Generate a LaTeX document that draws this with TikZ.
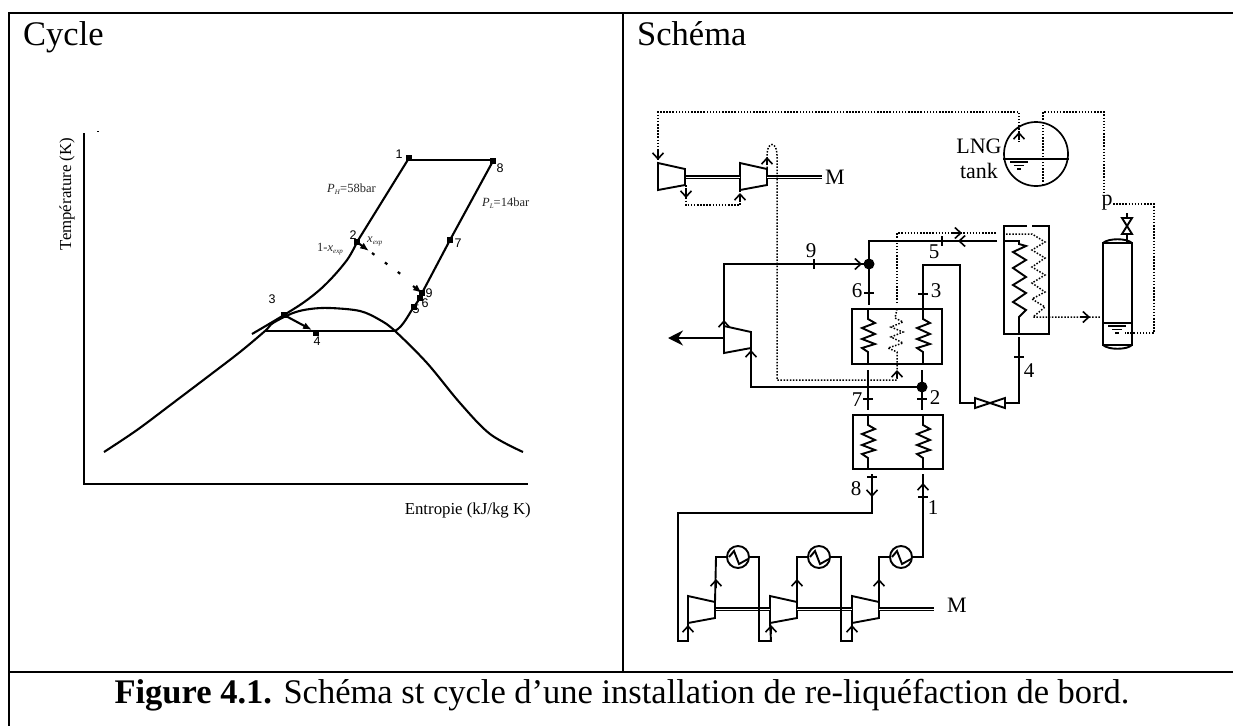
\documentclass[tikz,border=0pt]{standalone}
\usepackage{fontspec}
\setmainfont{Liberation Serif}
\newfontfamily\numfont{Liberation Sans}
\usetikzlibrary{arrows.meta}
\newcommand{\subs}[1]{\raisebox{-2.5pt}{\fontsize{7}{7}\selectfont\textit{#1}}}
\tikzset{
  every node/.style={inner sep=0pt},
  framel/.style={line width=2.4pt},
  curve/.style={line width=2.1pt,line join=round},
  pipe/.style={line width=1.9pt,line join=miter},
  dots/.style={line width=1.5pt,dash pattern=on 1.5pt off 1.6pt},
  tick/.style={line width=1.6pt},
  head/.style={line width=1.6pt,-{Straight Barb[length=6pt,width=11pt]}},
  shaft/.style={double,double distance=0.9pt,line width=1.5pt},
  dotn/.style={circle,fill=black,minimum size=11pt},
  pt/.style={rectangle,fill=black,minimum size=6pt},
  title/.style={anchor=base west,font=\fontsize{34.5}{38}\selectfont},
  num/.style={font=\fontsize{21}{22}\selectfont},
  cyc/.style={font=\numfont\fontsize{12.5}{14}\selectfont},
  ax/.style={font=\fontsize{16.8}{18}\selectfont},
  pres/.style={anchor=base west,font=\fontsize{12.5}{14}\selectfont,text=black!85},
  machine/.pic={
    \draw[pipe] (0,0) coordinate (-tl) -- (27,6) coordinate (-tr) -- (27,22) coordinate (-br) -- (0,27) coordinate (-bl) -- cycle;
  },
  coil/.pic={
    \draw[pipe] (0,0) -- (0,11) -- (7,15) -- (-6,20) -- (7,26) -- (-6,31) -- (7,36) -- (-6,40) -- (0,44) -- (0,55);
  },
  cooler/.pic={
    \draw[pipe] (0,0) circle (11);
    \draw[pipe] (-9,0) -- (-4,-6) -- (1,7) -- (10,2);
  },
  level/.pic={
    \draw[line width=1.1pt] (-9,0) -- (9,0) (-5,3.5) -- (5,3.5) (-2,7) -- (2,7);
  }
}
\begin{document}
\begin{tikzpicture}[x=1pt,y=-1pt]
\useasboundingbox (0,0) rectangle (1233,726);
% frame
\draw[framel] (1233,13) -- (9,13) -- (9,726);
\draw[framel] (9,672) -- (1233,672);
\draw[framel] (623,13) -- (623,672);
\node[title] (cycle) at (23,45) {Cycle};
\node[title] (schema) at (637,45) {Schéma};
\node[anchor=base,font=\fontsize{34.5}{38}\selectfont] (caption) at (622,703) {\textbf{Figure 4.1.} Schéma st cycle d’une installation de re-liquéfaction de bord.};

% cycle, axes
\draw[framel] (84,133) -- (84,484) -- (528,484);
\fill (97,131) rectangle (99,132);
\node[ax,rotate=90] (ylab) at (67,194) {Température (K)};
\node[ax,anchor=base east] (xlab) at (531,514) {Entropie (kJ/kg K)};
% cycle, states
\foreach \n/\x/\y in {1/409/158,8/493/161,2/357/242,7/450/240,9/422/293,6/420/298,5/414/307,3/284/315,4/316/333}
  \node[pt] (p\n) at (\x,\y) {};
\foreach \n/\x/\y in {1/399/154,8/500/168,2/353/235,7/458/243,3/272/299,4/317/341,9/429/293,6/425/303,5/416/309}
  \node[cyc] (c\n) at (\x,\y) {\n};
\coordinate (domeL) at (265,331);
\coordinate (domeR) at (395,331);
% saturation dome
\draw[curve] plot[smooth,tension=0.55] coordinates {(104,452) (137,430) (173,403) (210,375) (240,352) (265,331) (273,323) (293,313) (310,309) (330,308) (360,311) (380,320) (395,331) (427,363) (460,403) (490,434) (523,452)};
\draw[curve] (domeL) -- (domeR);
\draw[curve] (409,160) -- (493,160);
\draw[curve] (p8.center) -- (p7.center) -- (p9.center) -- (p6.center) -- (p5.center);
\draw[curve] (p5.center) .. controls (409,313) and (404,326) .. (domeR);
\draw[curve] (p1.center) -- (p2.center);
\draw[curve] plot[smooth,tension=0.6] coordinates {(357,242) (347,260) (327,283) (307,300) (284,315) (252,334)};
\draw[curve,-{Latex[length=9pt,width=7pt]}] (p3.center) -- (312,330);
\draw[curve,-{Latex[length=9pt,width=7pt]}] (p2.center) -- (369,251);
\draw[line width=2.2pt,dash pattern=on 3pt off 13pt] (372,253) -- (406,278);
\draw[curve,-{Latex[length=9pt,width=7pt]}] (413,286) -- (p9.center);
\node[pres] (pH) at (327,192) {\textit{P}\subs{H}=58bar};
\node[pres] (pL) at (482,206) {\textit{P}\subs{L}=14bar};
\node[pres] (xa) at (317,251) {1-\textit{x}\subs{exp}};
\node[pres] (xb) at (367,242) {\textit{x}\subs{exp}};

% boil-off compression train
\pic (t1) at (658,163) {machine};
\pic (t2) at (740,163) {machine};
\draw[shaft] (686,177) -- (740,177);
\draw[shaft] (767,177) -- (822,177);
\node[num,anchor=base west,font=\fontsize{22}{24}\selectfont] (m1) at (825,184) {M};
\draw[dots] (1019,142) -- (1019,112) -- (658,112) -- (658,160);
\draw[head] (658,150) -- (658,160);
\draw[dots] (686,185) -- (686,205) -- (740,205) -- (740,190);
\draw[head] (686,190) -- (686,198);
\draw[head] (740,201) -- (740,193);
\draw[dots] (767,168) -- (767,155) .. controls (767,141) and (777,141) .. (777,155) -- (777,380) -- (897,380) -- (897,363);
\draw[head] (767,165) -- (767,157);
\draw[head] (897,378) -- (897,370);

% tank
\node[circle,draw,line width=1.7pt,minimum size=64pt] (tank) at (1036,154) {};
\draw[pipe] (tank.west |- 0,159) -- (tank.east |- 0,159);
\pic at (1019,162) {level};
\draw[head] (1019,140) -- (1019,132);
\node[num,anchor=base,font=\fontsize{22}{24}\selectfont] (lng) at (979,153) {LNG};
\node[num,anchor=base,font=\fontsize{22}{24}\selectfont] (tk) at (979,178) {tank};
\draw[dots] (1043,185) -- (1043,112) -- (1104,112) -- (1104,194);
\node[num,anchor=base,font=\fontsize{22}{24}\selectfont] (pp) at (1107,205) {p};
\draw[dots] (1113,204) -- (1154,204) -- (1154,333) -- (1125,333);

% heat exchangers
\node[draw,line width=1.9pt,anchor=north west,minimum width=90pt,minimum height=55pt] (hx2) at (851,308) {};
\node[draw,line width=1.9pt,anchor=north west,minimum width=90pt,minimum height=54pt] (hx1) at (852,414) {};
\pic at (868,308) {coil};
\pic at (923,308) {coil};
\pic at (868,414) {coil};
\pic at (923,414) {coil};
\draw[dots] (897,309) -- (895,318) -- (903,322) -- (891,327) -- (903,332) -- (891,337) -- (903,343) -- (888,348) -- (897,352) -- (897,363);
% tall exchanger
\draw[pipe] (1027,226) -- (1004,226) -- (1004,334) -- (1049,334) -- (1049,226) -- (1032,226);
\draw[pipe] (1004,241) -- (1019,241) -- (1019,244) -- (1026,246) -- (1013,252) -- (1026,260) -- (1013,268) -- (1026,277) -- (1013,285) -- (1026,293) -- (1013,302) -- (1026,310) -- (1019,317) -- (1019,334);
\draw[dots] (1003,234) -- (1032,234) -- (1045,242) -- (1032,250) -- (1045,258) -- (1032,267) -- (1045,275) -- (1032,283) -- (1045,292) -- (1032,299) -- (1045,307) -- (1033,317) -- (1100,317);
\draw[head] (1080,317) -- (1090,317);
\draw[dots] (897,303) -- (897,233) -- (997,233);
\draw[head] (952,233) -- (962,233);

% separator
\draw[pipe] (1103,243) rectangle (1132,345);
\draw[pipe] (1103,243) .. controls (1108,238) and (1127,238) .. (1132,243);
\draw[pipe] (1103,345) .. controls (1108,350) and (1127,350) .. (1132,345);
\draw[pipe] (1103,323) -- (1132,323);
\pic at (1117,326) {level};
\draw[pipe] (1127,213) -- (1127,243);
\draw[pipe,fill=white] (1122,218) -- (1132,218) -- (1122,234) -- (1132,234) -- cycle;

% liquefaction lines
\node[dotn] (j1) at (869,264) {};
\node[dotn] (j2) at (922,387) {};
\pic (t3) at (724,326) {machine};
\coordinate (g5) at (997,241);
\draw[pipe] (g5) -- (869,241) -- (j1.center) -- (869,305);
\draw[pipe] (724,326) -- (724,264) -- (j1.center);
\draw[head] (852,264) -- (862,264);
\draw[head] (968,241) -- (958,241);
\draw[head] (724,328) -- (724,320);
\draw[line width=2.2pt,-{Stealth[length=15pt,width=15pt,inset=5pt]}] (t3-tl |- 0,338) -- (668,338);
\draw[pipe] (j2.center) -- (751,387) -- (t3-br);
\draw[head] (751,358) -- (751,350);
\draw[pipe] (922,370) -- (922,410);
\draw[pipe] (868,370) -- (868,410);
\draw[pipe] (923,294) -- (923,265) -- (960,265) -- (960,403) -- (975,403);
\draw[pipe] (923,308) -- (923,294);
\draw[pipe] (1019,337) -- (1019,403) -- (1005,403);
\draw[pipe,fill=white] (975,398) -- (975,408) -- (1005,398) -- (1005,408) -- cycle;

% compressors
\pic (k1) at (688,596) {machine};
\pic (k2) at (770,596) {machine};
\pic (k3) at (852,596) {machine};
\pic at (738,557) {cooler};
\pic at (819,557) {cooler};
\pic at (901,557) {cooler};
\draw[shaft,double distance=0.5pt,line width=2pt] (716,609) -- (770,609);
\draw[shaft,double distance=0.5pt,line width=2pt] (797,609) -- (852,609);
\draw[shaft] (879,609) -- (934,609);
\node[num,anchor=base west,font=\fontsize{22}{24}\selectfont] (m2) at (947,612) {M};
\draw[pipe] (872,474) -- (872,513) -- (678,513) -- (678,641) -- (688,641) -- (k1-bl);
\draw[pipe] (k1-tr) -- (716,557) -- (727,557);
\draw[pipe] (749,557) -- (759,557) -- (759,641) -- (771,641) -- (k2-bl);
\draw[pipe] (k2-tr) -- (797,557) -- (808,557);
\draw[pipe] (830,557) -- (841,557) -- (841,641) -- (852,641) -- (k3-bl);
\draw[pipe] (k3-tr) -- (879,557) -- (890,557);
\draw[pipe] (912,557) -- (923,557) -- (923,474);
\draw[head] (872,487) -- (872,497);
\draw[head] (923,493) -- (923,483);
\foreach \x in {716,797,879} \draw[head] (\x,588) -- (\x,579);
\foreach \x in {688,771,852} \draw[head] (\x,634) -- (\x,625);

% ticks
\foreach \x/\y in {814/264,942/241} \draw[tick] (\x,\y-5) -- (\x,\y+5);
\foreach \x/\y in {869/293,923/294,868/399,922/399,872/477,923/497,1019/357} \draw[tick] (\x-5,\y) -- (\x+5,\y);
\foreach \n/\x/\y in {9/811/251,6/857/291,3/936/291,5/934/252,7/857/400,2/935/398,8/856/489,1/933/508,4/1029/371}
  \node[num] (s\n) at (\x,\y) {\n};
\end{tikzpicture}
\end{document}
